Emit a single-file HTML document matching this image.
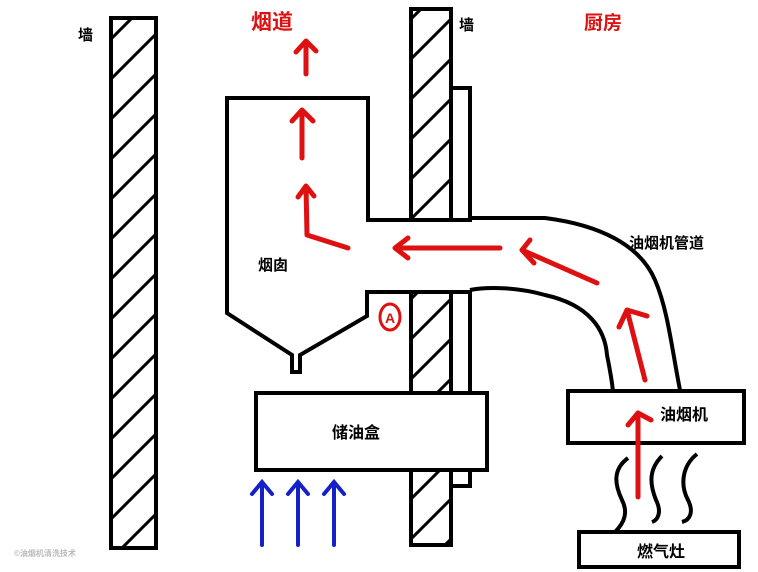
<!DOCTYPE html>
<html><head><meta charset="utf-8"><style>body{margin:0;background:#fff}svg{display:block}text{font-family:"Liberation Sans","Noto Sans CJK SC",sans-serif;font-weight:bold}</style></head><body>
<svg width="758" height="572" viewBox="0 0 758 572" xmlns="http://www.w3.org/2000/svg">
<defs>
<pattern id="h" patternUnits="userSpaceOnUse" width="40" height="40"><path d="M-10,40 L40,-10 M-10,80 L80,-10" stroke="#000" stroke-width="3"/></pattern>
</defs>
<rect width="758" height="572" fill="#fff"/>
<rect x="111" y="18" width="45" height="530" fill="url(#h)" stroke="#000" stroke-width="4"/>
<rect x="411" y="9" width="40" height="211" fill="url(#h)" stroke="#000" stroke-width="4"/>
<rect x="411" y="292" width="40" height="253" fill="url(#h)" stroke="#000" stroke-width="4"/>
<rect x="451" y="88" width="19" height="132" fill="none" stroke="#000" stroke-width="4"/>
<rect x="451" y="292" width="19" height="194" fill="none" stroke="#000" stroke-width="4"/>
<path d="M470,220 L368,220 L368,98 L227,98 L227,313 L292,355 L292,372 L300,372 L300,355 L367,316 L367,292 L470,292" fill="none" stroke="#000" stroke-width="4" stroke-linejoin="miter"/>
<path d="M470,218 L545,218 C600,225 640,245 655,280 C668,310 672,350 680,390" fill="none" stroke="#000" stroke-width="4"/>
<path d="M470,290 C490,286 520,288 545,295 C590,305 605,330 607,355 C610,370 612,380 613,392" fill="none" stroke="#000" stroke-width="4"/>
<rect x="256" y="393" width="231" height="77" fill="#fff" stroke="#000" stroke-width="4"/>
<rect x="568" y="391" width="176" height="52" fill="#fff" stroke="#000" stroke-width="4"/>
<rect x="579" y="532" width="160" height="35" fill="#fff" stroke="#000" stroke-width="4"/>
<g fill="none" stroke="#000" stroke-width="4">
<path d="M628,458 C612,470 615,485 622,500 C628,512 625,522 615,532"/>
<path d="M662,456 C648,470 650,485 656,500 C662,512 658,520 652,522"/>
<path d="M697,454 C682,466 680,485 688,500 C694,512 690,520 682,522"/>
</g>
<g fill="none" stroke="#d11" stroke-width="5" stroke-linecap="round" stroke-linejoin="round">
<path d="M306,74 L306,42 M296,52 L306,41 L316,51"/>
<path d="M302,158 L302,110 M292,121 L302,110 L313,121"/>
<path d="M348,248 L307,235 L306,186 M298,197 L306,186 L314,196"/>
<path d="M500,248 L395,248 M408,238 L395,248 L408,258"/>
<path d="M597,283 L522,250 M530,240 L522,250 L534,263"/>
<path d="M645,380 L627,310 M619,327 L627,310 L647,316"/>
<path d="M638,497 L638,413 M628,425 L638,413 L651,420"/>
</g>
<g fill="none" stroke="#1520c8" stroke-width="4" stroke-linecap="round">
<path d="M262,545 L262,482 M252,494 L262,482 L272,494"/>
<path d="M298,545 L298,482 M288,494 L298,482 L308,494"/>
<path d="M334,545 L334,482 M324,494 L334,482 L344,494"/>
</g>
<ellipse cx="390" cy="317" rx="10" ry="13" fill="none" stroke="#d11" stroke-width="3"/>
<text x="390" y="323" font-size="14" fill="#d11" text-anchor="middle">A</text>
<text x="78" y="40" font-size="15" fill="#000">墙</text>
<text x="459" y="30" font-size="15" fill="#000">墙</text>
<text x="251" y="29" font-size="21" fill="#d11">烟道</text>
<text x="584" y="29" font-size="19" fill="#d11">厨房</text>
<text x="258" y="270" font-size="15" fill="#000">烟囱</text>
<text x="629" y="248" font-size="15" fill="#000">油烟机管道</text>
<text x="332" y="438" font-size="16" fill="#000">储油盒</text>
<text x="660" y="420" font-size="16" fill="#000">油烟机</text>
<text x="637" y="557" font-size="16" fill="#000">燃气灶</text>
<text x="14" y="556" font-size="8" fill="#bbb" font-weight="normal">©油烟机清洗技术</text>
</svg>
</body></html>
